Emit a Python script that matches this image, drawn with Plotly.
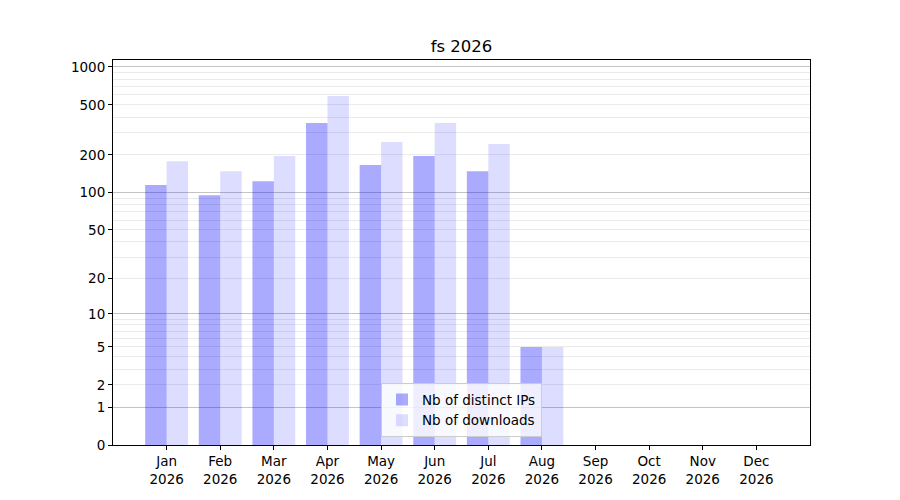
import numpy as np
import plotly.graph_objects as go

months = ['Jan', 'Feb', 'Mar', 'Apr', 'May', 'Jun', 'Jul', 'Aug', 'Sep', 'Oct', 'Nov', 'Dec']
year = '2026'
distinct_ips = [115, 95, 123, 358, 166, 196, 148, 5, 0, 0, 0, 0]
downloads = [178, 148, 196, 588, 253, 358, 244, 5, 0, 0, 0, 0]

tick_values = [0, 1, 2, 5, 10, 20, 50, 100, 200, 500, 1000]
major_grid = [1, 10, 100, 1000]
minor_grid = [m * d for d in (1, 10, 100) for m in range(2, 10)]


def tf(v):
    # log10(1 + x) scale, like the original symlog-ish axis
    return np.log10(1 + np.asarray(v, dtype=float))


x = list(range(len(months)))
xlabels = [m + '<br>' + year for m in months]

fig = go.Figure()
fig.add_trace(go.Bar(
    x=x, y=tf(distinct_ips), customdata=distinct_ips,
    name='Nb of distinct IPs',
    marker=dict(color='rgba(0,0,255,0.333)', line=dict(width=0)),
    hovertemplate='%{customdata}<extra></extra>'))
fig.add_trace(go.Bar(
    x=x, y=tf(downloads), customdata=downloads,
    name='Nb of downloads',
    marker=dict(color='rgba(0,0,255,0.133)', line=dict(width=0)),
    hovertemplate='%{customdata}<extra></extra>'))

yrange = [0, float(tf(1136))]

fig.update_layout(
    width=900, height=500,
    margin=dict(l=105, r=98, t=52, b=63),
    paper_bgcolor='white', plot_bgcolor='white',
    font=dict(family='DejaVu Sans', size=13.5, color='black'),
    title=dict(text='fs 2026', x=0.5, xref='paper', xanchor='center',
               y=1 - 38 / 500, yref='container', yanchor='middle',
               font=dict(size=16.5)),
    barmode='group', bargap=0.2, bargroupgap=0,
    showlegend=True,
    legend=dict(x=0.5, xanchor='center', y=0.02, yanchor='bottom',
                bgcolor='rgba(255,255,255,0.8)', bordercolor='#cccccc',
                borderwidth=1, font=dict(size=13.5)),
    xaxis=dict(
        range=[-1, 12], tickmode='array', tickvals=x, ticktext=xlabels,
        showgrid=False, zeroline=False,
        showline=True, linecolor='black', linewidth=1, mirror=True,
        ticks='outside', ticklen=4, tickcolor='black'),
    yaxis=dict(
        range=yrange, tickmode='array', tickvals=tf(tick_values),
        ticktext=[str(t) for t in tick_values],
        showgrid=False, zeroline=False,
        showline=True, linecolor='black', linewidth=1, mirror=True,
        ticks='outside', ticklen=4, tickcolor='black',
        minor=dict(tickmode='array', tickvals=tf(minor_grid), showgrid=True,
                   gridcolor='#ebebeb', gridwidth=1, ticks='')),
    yaxis2=dict(
        range=yrange, overlaying='y', side='left', tickmode='array',
        tickvals=tf(major_grid), showticklabels=False, ticks='',
        showgrid=True, gridcolor='#c4c4c4', gridwidth=1,
        zeroline=False, showline=False),
)

# invisible trace so the grid-only axis gets drawn
fig.add_trace(go.Scatter(x=[0], y=[0], yaxis='y2', mode='markers',
                         marker=dict(opacity=0), showlegend=False,
                         hoverinfo='skip'))

fig.write_html('out.html')
